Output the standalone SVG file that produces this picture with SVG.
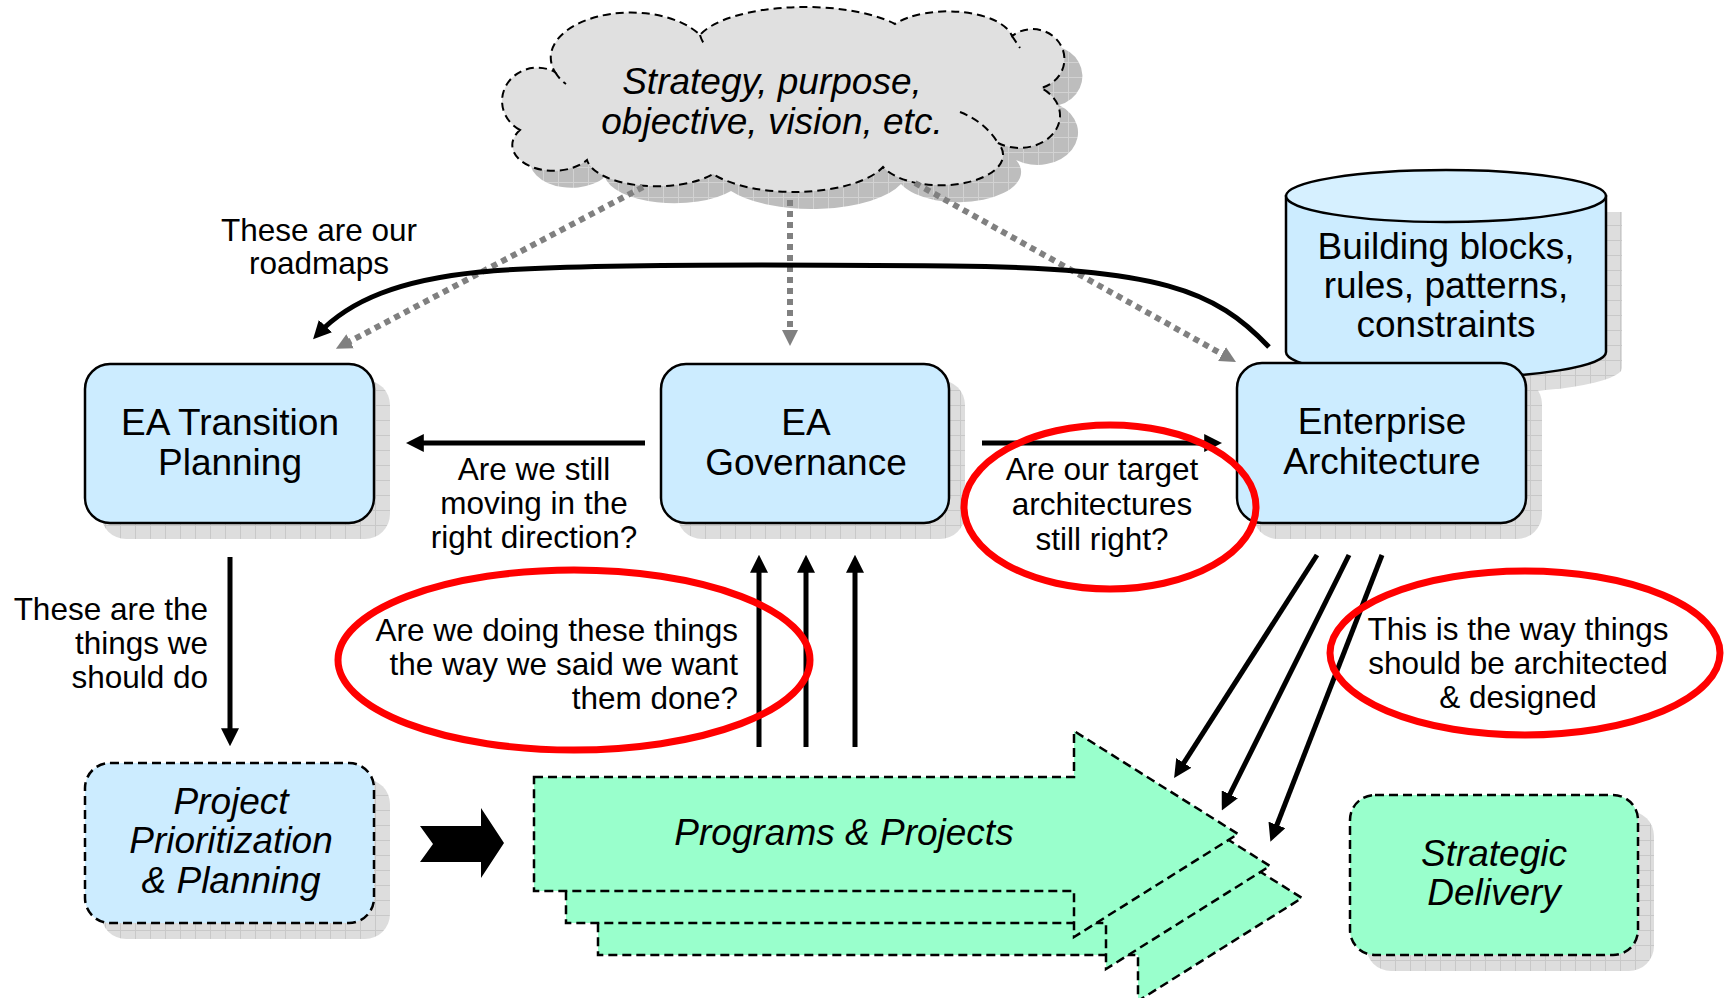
<svg xmlns="http://www.w3.org/2000/svg" width="1728" height="998" viewBox="0 0 1728 998">
<style>
.t{font-family:"Liberation Sans",Arial,sans-serif;fill:#000}
.big{font-size:37px}
.sm{font-size:31.5px}
.it{font-style:italic}
.box{fill:#ccecff;stroke:#000;stroke-width:2.5}
.dbox{stroke-dasharray:9 5}
.green{fill:#99ffcc;stroke:#000;stroke-width:2.5;stroke-dasharray:9 5}
.shadow{fill:url(#grid)}
.conn{fill:none;stroke:#000;stroke-width:5}
.dot{fill:none;stroke:#808080;stroke-width:6;stroke-dasharray:6 5}
.red{fill:none;stroke:#ff0000;stroke-width:7}
</style>
<defs>
<pattern id="grid" width="15" height="15" patternUnits="userSpaceOnUse">
<rect width="15" height="15" fill="#dddddd"/>
<path d="M0.5 0V15M0 0.5H15" stroke="#c8c8c8" stroke-width="1"/>
</pattern>
<pattern id="grid2" width="15" height="15" patternUnits="userSpaceOnUse">
<rect width="15" height="15" fill="#bdbdbd"/>
<path d="M0.5 0V15M0 0.5H15" stroke="#d2d2d2" stroke-width="1"/>
</pattern>
<marker id="ah" viewBox="0 0 20 20" refX="12" refY="10" markerWidth="18" markerHeight="18" markerUnits="userSpaceOnUse" orient="auto">
<path d="M0,0 L20,10 L0,20 Z" fill="#000"/>
</marker>
<marker id="gh" viewBox="0 0 20 20" refX="10" refY="10" markerWidth="16" markerHeight="16" markerUnits="userSpaceOnUse" orient="auto">
<path d="M0,0 L20,10 L0,20 Z" fill="#808080"/>
</marker>
<path id="cloudpath" d="M520,130 A34,32 0 1 1 555,72 A80,45 0 0 1 700,35 A110,40 0 0 1 895,24 A65,30 0 0 1 1012,36 A32,30 0 1 1 1041,88 A40,32 0 1 1 998,143 A62,30 0 0 1 883,167 A95,38 0 0 1 713,174 A70,30 0 0 1 587,160 A40,25 0 0 1 520,130 Z"/>
</defs>

<g id="cloud">
<use href="#cloudpath" transform="translate(18,17)" fill="url(#grid2)"/>
<use href="#cloudpath" fill="#e0e0e0" stroke="#000" stroke-width="2" stroke-dasharray="8 5"/>
<path d="M700,35 Q702,42 706,46 M1012,36 Q1016,42 1020,48 M960,112 Q985,122 998,143 M555,72 Q560,80 566,84" fill="none" stroke="#000" stroke-width="2" stroke-dasharray="8 5"/>
<text class="t big it" x="772" y="94" text-anchor="middle">Strategy, purpose,</text>
<text class="t big it" x="772" y="134" text-anchor="middle">objective, vision, etc.</text>
</g>

<g id="building-blocks">
<path d="M1302,212 L1302,368 A160,26 0 0 0 1622,368 L1622,212 Z" class="shadow"/>
<path d="M1286,196 L1286,352 A160,26 0 0 0 1606,352 L1606,196 Z" fill="#ccecff" stroke="#000" stroke-width="2.5"/>
<ellipse cx="1446" cy="196" rx="160" ry="26" fill="#d6f0ff" stroke="#000" stroke-width="2.5"/>
<text class="t big" x="1446" y="259" text-anchor="middle">Building blocks,</text>
<text class="t big" x="1446" y="298" text-anchor="middle">rules, patterns,</text>
<text class="t big" x="1446" y="337" text-anchor="middle">constraints</text>
</g>

<g id="ea-transition">
<rect x="101" y="380" width="289" height="159" rx="25" class="shadow"/>
<rect x="85" y="364" width="289" height="159" rx="25" class="box"/>
<text class="t big" x="230" y="435" text-anchor="middle">EA Transition</text>
<text class="t big" x="230" y="475" text-anchor="middle">Planning</text>
</g>

<g id="ea-governance">
<rect x="677" y="380" width="288" height="159" rx="25" class="shadow"/>
<rect x="661" y="364" width="288" height="159" rx="25" class="box"/>
<text class="t big" x="806" y="435" text-anchor="middle">EA</text>
<text class="t big" x="806" y="475" text-anchor="middle">Governance</text>
</g>

<g id="enterprise-architecture">
<rect x="1253" y="379" width="289" height="160" rx="25" class="shadow"/>
<rect x="1237" y="363" width="289" height="160" rx="25" class="box"/>
<text class="t big" x="1382" y="434" text-anchor="middle">Enterprise</text>
<text class="t big" x="1382" y="474" text-anchor="middle">Architecture</text>
</g>

<g id="project-prioritization">
<rect x="101" y="779" width="289" height="160" rx="25" class="shadow"/>
<rect x="85" y="763" width="289" height="160" rx="25" class="box dbox"/>
<text class="t big it" x="231" y="814" text-anchor="middle">Project</text>
<text class="t big it" x="231" y="853" text-anchor="middle">Prioritization</text>
<text class="t big it" x="231" y="893" text-anchor="middle">&amp; Planning</text>
</g>

<g id="block-arrow">
<polygon points="420,826 481,826 481,808 504,843 481,878 481,862 420,862 433,844" fill="#000"/>
</g>

<g id="programs-projects">
<polygon class="green" points="598,841 1138,841 1138,795 1302,898 1138,1001 1138,955 598,955"/>
<polygon class="green" points="566,809 1106,809 1106,763 1270,866 1106,969 1106,923 566,923"/>
<polygon class="green" points="534,777 1074,777 1074,731 1238,834 1074,937 1074,891 534,891"/>
<text class="t big it" x="844" y="845" text-anchor="middle">Programs &amp; Projects</text>
</g>

<g id="strategic-delivery">
<rect x="1366" y="811" width="288" height="160" rx="25" class="shadow"/>
<rect x="1350" y="795" width="288" height="160" rx="25" class="green"/>
<text class="t big it" x="1494" y="866" text-anchor="middle">Strategic</text>
<text class="t big it" x="1494" y="905" text-anchor="middle">Delivery</text>
</g>

<g id="connectors">
<line class="dot" x1="643" y1="187" x2="343" y2="345" marker-end="url(#gh)"/>
<line class="dot" x1="790" y1="200" x2="790" y2="338" marker-end="url(#gh)"/>
<line class="dot" x1="915" y1="183" x2="1229" y2="358" marker-end="url(#gh)"/>
<path class="conn" d="M1269,347 C1215,290 1160,268 950,266 C760,264 560,264 480,272 C400,280 350,300 318,334" marker-end="url(#ah)"/>
<line class="conn" x1="645" y1="443" x2="413" y2="443" marker-end="url(#ah)"/>
<line class="conn" x1="982" y1="443" x2="1215" y2="443" marker-end="url(#ah)"/>
<line class="conn" x1="230" y1="557" x2="230" y2="739" marker-end="url(#ah)"/>
<line class="conn" x1="759" y1="747" x2="759" y2="562" marker-end="url(#ah)"/>
<line class="conn" x1="806" y1="747" x2="806" y2="562" marker-end="url(#ah)"/>
<line class="conn" x1="855" y1="747" x2="855" y2="562" marker-end="url(#ah)"/>
<line class="conn" x1="1317" y1="555" x2="1178" y2="772" marker-end="url(#ah)"/>
<line class="conn" x1="1349" y1="555" x2="1225" y2="804" marker-end="url(#ah)"/>
<line class="conn" x1="1382" y1="555" x2="1273" y2="835" marker-end="url(#ah)"/>
</g>

<g id="labels">
<text class="t sm" x="319" y="241" text-anchor="middle">These are our</text>
<text class="t sm" x="319" y="274" text-anchor="middle">roadmaps</text>
<text class="t sm" x="534" y="480" text-anchor="middle">Are we still</text>
<text class="t sm" x="534" y="514" text-anchor="middle">moving in the</text>
<text class="t sm" x="534" y="548" text-anchor="middle">right direction?</text>
<text class="t sm" x="208" y="620" text-anchor="end">These are the</text>
<text class="t sm" x="208" y="654" text-anchor="end">things we</text>
<text class="t sm" x="208" y="688" text-anchor="end">should do</text>
</g>

<g id="callout-direction">
<ellipse class="red" cx="1110" cy="507" rx="146" ry="82"/>
<text class="t sm" x="1102" y="480" text-anchor="middle">Are our target</text>
<text class="t sm" x="1102" y="515" text-anchor="middle">architectures</text>
<text class="t sm" x="1102" y="550" text-anchor="middle">still right?</text>
</g>

<g id="callout-doing">
<ellipse class="red" cx="574" cy="660" rx="236" ry="90"/>
<text class="t sm" x="738" y="641" text-anchor="end">Are we doing these things</text>
<text class="t sm" x="738" y="675" text-anchor="end">the way we said we want</text>
<text class="t sm" x="738" y="709" text-anchor="end">them done?</text>
</g>

<g id="callout-architected">
<ellipse class="red" cx="1525" cy="653" rx="195" ry="82"/>
<text class="t sm" x="1518" y="640" text-anchor="middle">This is the way things</text>
<text class="t sm" x="1518" y="674" text-anchor="middle">should be architected</text>
<text class="t sm" x="1518" y="708" text-anchor="middle">&amp; designed</text>
</g>
</svg>
